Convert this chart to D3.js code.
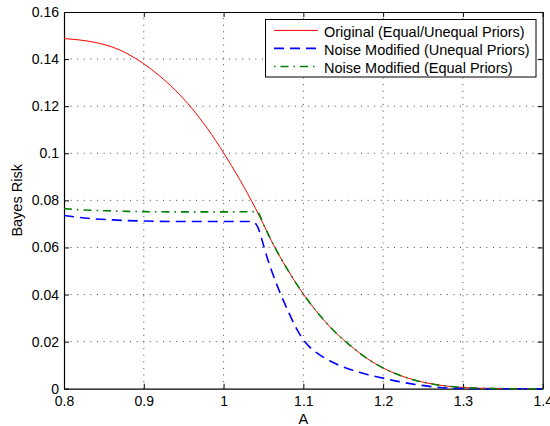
<!DOCTYPE html>
<html>
<head>
<meta charset="utf-8">
<script src="https://cdn.jsdelivr.net/npm/d3@7"></script>
<style>
html,body{margin:0;padding:0;background:#fff;}
svg{display:block;font-family:"Liberation Sans",Arial,Helvetica,sans-serif;}
</style>
</head>
<body>
<svg id="chart" width="550" height="426"></svg>
<script>
// ---- data ----
const xTicks = [0.8, 0.9, 1.0, 1.1, 1.2, 1.3, 1.4];
const xTickLabels = ["0.8", "0.9", "1", "1.1", "1.2", "1.3", "1.4"];
const yTicks = [0, 0.02, 0.04, 0.06, 0.08, 0.1, 0.12, 0.14, 0.16];
const yTickLabels = ["0", "0.02", "0.04", "0.06", "0.08", "0.1", "0.12", "0.14", "0.16"];

const seriesNames = ["Original (Equal/Unequal Priors)", "Noise Modified (Unequal Priors)", "Noise Modified (Equal Priors)"];

const originalA = [0.80,0.82,0.84,0.86,0.88,0.90,0.92,0.94,0.96,0.98,1.00,1.02,1.04,1.05,1.06,1.08,1.10,1.12,1.14,1.16,1.18,1.20,1.22,1.24,1.26,1.28,1.30,1.32,1.34,1.36,1.38,1.40];
const originalRisk = [0.1487,0.1481,0.1470,0.1452,0.1422,0.1380,0.1328,0.1266,0.1192,0.1104,0.1002,0.0890,0.0766,0.0698,0.0628,0.0507,0.0402,0.0314,0.0240,0.0180,0.0128,0.0088,0.0058,0.0036,0.0021,0.0011,0.0005,0.0002,0.0001,0,0,0];

const unequalA = [0.80,0.82,0.84,0.86,0.88,0.90,0.95,1.00,1.035,1.040,1.045,1.050,1.055,1.060,1.065,1.072,1.081,1.090,1.100,1.110,1.120,1.140,1.160,1.180,1.200,1.220,1.240,1.260,1.280,1.300,1.320,1.400];
const unequalRisk = [0.0736,0.0727,0.0721,0.0717,0.0714,0.0712,0.0710,0.0710,0.0710,0.0702,0.0668,0.0610,0.0553,0.0503,0.0457,0.0398,0.0329,0.0264,0.0208,0.0170,0.0145,0.0107,0.0080,0.0060,0.0045,0.0030,0.0018,0.0009,0.0003,0.0001,0,0];

const equalA = [0.80,0.82,0.84,0.86,0.88,0.90,0.95,1.00,1.042,1.05,1.06,1.08,1.10,1.12,1.14,1.16,1.18,1.20,1.22,1.24,1.26,1.28,1.30,1.32,1.34,1.36,1.38,1.40];
const equalRisk = [0.0765,0.0760,0.0757,0.0755,0.0753,0.0752,0.0751,0.0751,0.0752,0.0698,0.0628,0.0507,0.0402,0.0314,0.0240,0.0180,0.0128,0.0088,0.0058,0.0036,0.0021,0.0011,0.0005,0.0002,0.0001,0,0,0];

// ---- layout ----
const svg = d3.select("#chart");
const L = 64, R = 542.7, T = 12, B = 388.7;
const x = d3.scaleLinear().domain([0.8, 1.4]).range([L, R]);
const y = d3.scaleLinear().domain([0, 0.16]).range([B, T]);
const FONT = "'Liberation Sans', Arial, Helvetica, sans-serif";

// grid
const grid = svg.append("g");
xTicks.slice(1, -1).forEach(v => {
  grid.append("line").attr("x1", x(v)).attr("x2", x(v)).attr("y1", B).attr("y2", T)
    .attr("stroke", "#444").attr("stroke-width", 1).attr("stroke-dasharray", "1,5.6");
});
yTicks.slice(1, -1).forEach(v => {
  grid.append("line").attr("x1", L).attr("x2", R).attr("y1", y(v)).attr("y2", y(v))
    .attr("stroke", "#444").attr("stroke-width", 1).attr("stroke-dasharray", "1,5.6");
});

// axes (ticks inward, all four sides)
const tickLen = 5;
const axB = d3.axisBottom(x).tickValues(xTicks).tickFormat((d, i) => xTickLabels[i]).tickSizeInner(-tickLen).tickSizeOuter(0).tickPadding(7);
const axL = d3.axisLeft(y).tickValues(yTicks).tickFormat((d, i) => yTickLabels[i]).tickSizeInner(-tickLen).tickSizeOuter(0).tickPadding(5);
const axT = d3.axisTop(x).tickValues(xTicks).tickFormat("").tickSizeInner(-tickLen).tickSizeOuter(0);
const axR = d3.axisRight(y).tickValues(yTicks).tickFormat("").tickSizeInner(-tickLen).tickSizeOuter(0);

function styleAxis(g) {
  g.selectAll(".domain").attr("stroke", "#000").attr("stroke-width", 1.2);
  g.selectAll(".tick line").attr("stroke", "#000").attr("stroke-width", 1);
  g.selectAll("text").attr("fill", "#000").attr("font-size", 14).attr("font-family", FONT);
}
svg.append("g").attr("transform", `translate(0,${B})`).call(axB).call(styleAxis);
svg.append("g").attr("transform", `translate(${L},0)`).call(axL).call(styleAxis);
svg.append("g").attr("transform", `translate(0,${T})`).call(axT).call(styleAxis);
svg.append("g").attr("transform", `translate(${R},0)`).call(axR).call(styleAxis);

// lines
const line = d3.line().x(d => x(d[0])).y(d => y(d[1])).curve(d3.curveMonotoneX);
const zip = (a, b) => a.map((v, i) => [v, b[i]]);

const styles = [
  {color: "#ff0000", width: 1, dash: null},
  {color: "#0000ff", width: 1.6, dash: "10,6"},
  {color: "#008000", width: 1.6, dash: "8,5,1.5,5"}
];
const data = [zip(originalA, originalRisk), zip(unequalA, unequalRisk), zip(equalA, equalRisk)];

const plot = svg.append("g");
data.forEach((d, i) => {
  plot.append("path").datum(d).attr("d", line).attr("fill", "none")
    .attr("stroke", styles[i].color).attr("stroke-width", styles[i].width)
    .attr("stroke-dasharray", styles[i].dash);
});

// legend
const lg = svg.append("g");
lg.append("rect").attr("x", 265.5).attr("y", 19.5).attr("width", 270.5).attr("height", 57.5)
  .attr("fill", "#fff").attr("stroke", "#000").attr("stroke-width", 1);
const rowY = [31.7, 49.7, 67.8];
seriesNames.forEach((name, i) => {
  lg.append("line").attr("x1", 274).attr("x2", 318).attr("y1", rowY[i] - 1.3).attr("y2", rowY[i] - 1.3)
    .attr("stroke", styles[i].color).attr("stroke-width", styles[i].width)
    .attr("stroke-dasharray", i === 2 ? "1.5,5,8,5" : styles[i].dash);
  lg.append("text").attr("x", 324).attr("y", rowY[i]).attr("dy", "0.35em")
    .attr("font-size", 14.5).attr("fill", "#000").attr("font-family", FONT).text(name);
});

// axis labels
svg.append("text").attr("x", (L + R) / 2).attr("y", 424).attr("text-anchor", "middle")
  .attr("font-size", 14.5).attr("fill", "#000").attr("font-family", FONT).text("A");
svg.append("text").attr("transform", `translate(22,${(T + B) / 2}) rotate(-90)`)
  .attr("text-anchor", "middle").attr("font-size", 14.5).attr("fill", "#000").attr("font-family", FONT).text("Bayes Risk");
</script>
</body>
</html>
